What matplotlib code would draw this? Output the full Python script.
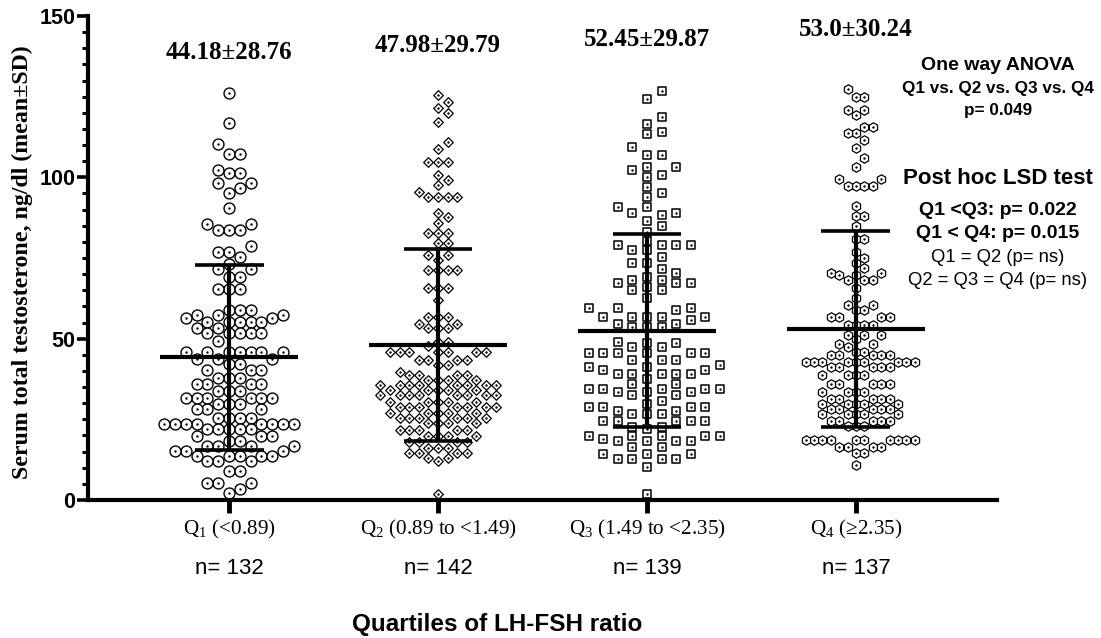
import numpy as np
import matplotlib
matplotlib.use("Agg")
import matplotlib.pyplot as plt
from matplotlib import font_manager

# summary values shown on the chart
groups = ["1", "2", "3", "4"]
ranges = ["(<0.89)", "(0.89 to <1.49)", "(1.49 to <2.35)", "(\u22652.35)"]
n_obs = [132, 142, 139, 137]
means = [44.18, 47.98, 52.45, 53.0]
sds = [28.76, 29.79, 29.87, 30.24]

# individual points (value, how many at it)
q1_vals = [126.0, 116.7, 110.2, 107.1, 102.4, 101.2, 98.1, 96.6, 95.2, 90.4,
           85.5, 83.7, 78.7, 77.0, 75.4, 73.0, 71.5, 69.0, 65.3, 58.8,
           57.3, 56.3, 55.3, 53.2, 51.7, 49.2, 45.8, 43.6, 42.3, 40.4,
           37.9, 35.8, 33.8, 31.7, 29.7, 28.1, 25.5, 23.4, 21.9, 19.8,
           18.3, 16.7, 15.2, 13.6, 12.1, 9.0, 5.4, 3.3, 2.2]
q1_counts = [1, 1, 1, 2, 1, 2, 2, 1, 1, 1,
             2, 3, 1, 2, 1, 1, 2, 2, 3, 3,
             3, 2, 5, 2, 5, 1, 7, 3, 2, 3,
             3, 4, 3, 6, 3, 3, 4, 8, 5, 3,
             2, 4, 3, 5, 3, 2, 3, 1, 1]

q2_vals = [125.5, 123.5, 121.4, 119.8, 117.2, 110.9, 108.9, 104.7, 100.6, 99.1,
           97.6, 95.5, 94.0, 88.8, 87.8, 85.7, 82.6, 79.7, 75.9, 74.4,
           71.3, 65.8, 62.0, 56.8, 54.7, 53.2, 49.1, 47.6, 45.9, 43.4,
           41.8, 39.8, 38.7, 37.2, 35.6, 34.1, 32.5, 30.5, 28.9, 26.9,
           25.3, 23.8, 21.7, 19.7, 18.1, 16.0, 14.5, 13.0, 12.0, 2.0]
q2_counts = [1, 1, 1, 1, 1, 1, 1, 3, 1, 1,
             1, 1, 4, 1, 1, 1, 3, 2, 2, 1,
             4, 3, 1, 3, 2, 3, 2, 1, 7, 4,
             2, 1, 4, 4, 8, 5, 8, 5, 7, 5,
             6, 4, 5, 4, 4, 3, 4, 2, 1, 1]

q3_vals = [126.8, 124.2, 118.6, 116.5, 114.1, 113.3, 109.5, 106.9, 103.3, 102.3,
           100.7, 100.2, 97.1, 95.0, 93.8, 90.9, 88.8, 88.3, 86.5, 85.0,
           83.1, 80.3, 79.0, 77.5, 75.4, 73.5, 71.5, 70.2, 69.2, 68.2,
           67.1, 66.1, 65.1, 62.5, 59.4, 58.9, 56.8, 55.8, 54.7, 53.7,
           49.1, 48.6, 47.5, 45.5, 43.4, 41.8, 41.3, 40.2, 39.2, 37.6,
           36.0, 34.5, 33.4, 32.4, 30.8, 29.8, 28.7, 27.7, 26.6, 24.6,
           22.5, 22.0, 19.8, 18.8, 18.3, 16.5, 14.2, 12.7, 10.1, 2.0]
q3_counts = [1, 1, 1, 1, 1, 1, 1, 2, 2, 1,
             1, 1, 1, 1, 1, 2, 2, 1, 1, 1,
             1, 1, 4, 2, 1, 2, 1, 1, 1, 2,
             3, 1, 2, 1, 3, 1, 5, 1, 2, 3,
             1, 2, 2, 6, 3, 1, 2, 2, 5, 1,
             2, 5, 3, 2, 1, 1, 4, 2, 3, 5,
             2, 1, 5, 1, 4, 2, 3, 4, 1, 1]

q4_vals = [127.5, 125.0, 120.9, 119.3, 115.7, 113.6, 111.6, 109.0, 105.9, 103.3,
           99.4, 97.3, 91.0, 87.9, 84.8, 80.9, 77.0, 75.0, 73.4, 71.9,
           70.3, 69.8, 68.2, 65.6, 62.5, 60.4, 58.8, 56.8, 54.2, 51.1,
           50.0, 48.4, 47.4, 45.9, 44.8, 42.7, 41.1, 38.6, 36.0, 33.4,
           31.3, 29.8, 28.2, 26.6, 24.6, 23.0, 18.6, 16.5, 14.5, 10.9]
q4_counts = [1, 2, 2, 1, 2, 2, 1, 1, 1, 1,
             2, 4, 1, 2, 1, 2, 1, 1, 1, 1,
             2, 2, 3, 1, 1, 2, 2, 4, 4, 3,
             1, 2, 1, 2, 5, 9, 5, 4, 5, 4,
             5, 5, 5, 5, 5, 3, 10, 4, 2, 1]

# marker, size, edge width, column spacing px, min vertical gap px
styles = [("o", 62, 1.0, 10.8, 11.0),
          ("D", 24, 0.9, 9.6, 9.0),
          ("s", 30, 1.1, 14.6, 8.5),
          ("h", 46, 0.9, 8.4, 9.0)]

W, H = 1101, 638
ax_l, ax_r, ax_t, ax_b = 88, 997, 16, 500
XLIM = (-0.675, 3.675)
YPX = (ax_b - ax_t) / 150.0
XPX = (ax_r - ax_l) / (XLIM[1] - XLIM[0])

names = {f.name for f in font_manager.fontManager.ttflist}
narrow = "Liberation Sans Narrow" if "Liberation Sans Narrow" in names else "Liberation Sans"


def lattice_swarm(vals, col_px, gap_px):
    ypix = vals * YPX
    cols = {}
    xo = np.zeros(len(vals))
    order = [0]
    for k in range(1, 60):
        order += [k, -k]
    for i in np.argsort(vals, kind="stable"):
        for k in order:
            if all(abs(ypix[i] - yy) >= gap_px for yy in cols.get(k, [])):
                break
        cols.setdefault(k, []).append(ypix[i])
        xo[i] = k * col_px / XPX
    return xo


data = [np.repeat(q1_vals, q1_counts), np.repeat(q2_vals, q2_counts),
        np.repeat(q3_vals, q3_counts), np.repeat(q4_vals, q4_counts)]

fig = plt.figure(figsize=(W / 100, H / 100), dpi=100)
ax = fig.add_axes([ax_l / W, 1 - ax_b / H, (ax_r - ax_l) / W, (ax_b - ax_t) / H])

for i, vals in enumerate(data):
    mk, s, lw, cpx, gpx = styles[i]
    xs = i + lattice_swarm(vals, cpx, gpx)
    ax.scatter(xs, vals, s=s, marker=mk, facecolor="white", edgecolor="black",
               linewidths=lw, zorder=2, clip_on=False)
    ax.scatter(xs, vals, s=3, marker="o", color="black", linewidths=0, zorder=3,
               clip_on=False)

x = np.arange(4)
m = np.array(means)
sd = np.array(sds)
ax.hlines(m, x - 0.33, x + 0.33, color="black", lw=3, zorder=5)
ax.vlines(x, m - sd, m + sd, color="black", lw=3, zorder=5)
ax.hlines(np.r_[m - sd, m + sd], np.r_[x, x] - 0.165, np.r_[x, x] + 0.165,
          color="black", lw=2.6, zorder=5)

label_y = [138.8, 141.0, 142.6, 145.8]
for i in range(4):
    ax.text(i, label_y[i], f"{means[i]}\u00b1{sds[i]}", ha="center", va="center",
            fontsize=18, fontweight="bold", family="Liberation Serif")

ax.set_xlim(*XLIM)
ax.set_ylim(0, 150)
ax.spines["top"].set_visible(False)
ax.spines["right"].set_visible(False)
ax.spines["left"].set_linewidth(3)
ax.spines["bottom"].set_linewidth(3)
ax.set_yticks([0, 50, 100, 150])
ax.set_yticks(np.arange(0, 151, 5), minor=True)
ax.set_xticks(x)
ax.set_xticklabels([])
ax.tick_params(axis="y", which="major", length=8, width=2.6, pad=1)
ax.tick_params(axis="y", which="minor", length=4.5, width=2.2)
ax.tick_params(axis="x", which="major", length=9, width=3.5)
for t in ax.get_yticklabels():
    t.set_fontfamily("Liberation Sans")
    t.set_fontweight("bold")
    t.set_fontsize(15.5)

tr = ax.get_xaxis_transform()
for i in range(4):
    ax.text(i, -(529 - ax_b) / (ax_b - ax_t),
            "Q$_\\mathregular{" + groups[i] + "}$ " + ranges[i],
            transform=tr, ha="center", va="center", fontsize=15.2,
            family="Liberation Serif")
    ax.text(i, -(568 - ax_b) / (ax_b - ax_t), f"n= {n_obs[i]}", transform=tr,
            ha="center", va="center", fontsize=16, family=narrow)

fig.text(497 / W, 1 - 625 / H, "Quartiles of LH-FSH ratio", ha="center", va="center",
         fontsize=17.5, fontweight="bold", family=narrow)
fig.text(22 / W, 1 - 262 / H, "Serum total testosterone, ng/dl (mean\u00b1SD)",
         rotation=90, ha="center", va="center", fontsize=17.2, fontweight="bold",
         family="Liberation Serif")

cx = 998 / W
notes = [("One way ANOVA", 65, 14, "bold"),
         ("Q1 vs. Q2 vs. Q3 vs. Q4", 88, 12.3, "bold"),
         ("p= 0.049", 110, 12.3, "bold"),
         ("Post hoc LSD test", 179, 16, "bold"),
         ("Q1 <Q3: p= 0.022", 210, 14, "bold"),
         ("Q1 < Q4: p= 0.015", 233, 14, "bold"),
         ("Q1 = Q2 (p= ns)", 258, 13.3, "normal"),
         ("Q2 = Q3 = Q4 (p= ns)", 280, 13.3, "normal")]
for txt, ypx, fs, fw in notes:
    fig.text(cx, 1 - ypx / H, txt, ha="center", va="center", fontsize=fs,
             fontweight=fw, family="Liberation Sans")

fig.savefig("out.png", dpi=100)
